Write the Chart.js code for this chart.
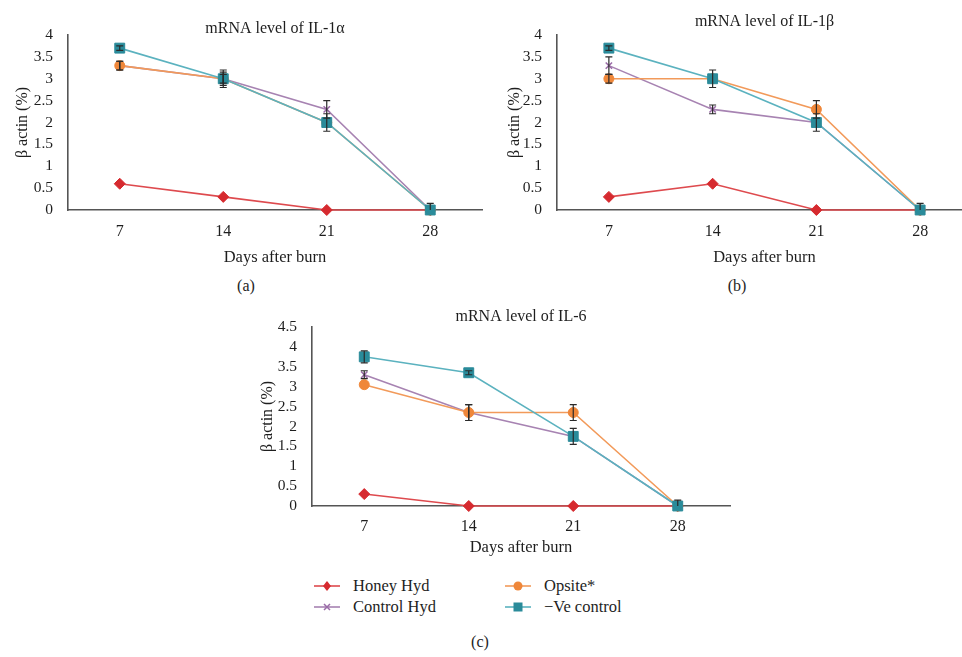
<!DOCTYPE html>
<html>
<head>
<meta charset="utf-8">
<script src="https://cdn.jsdelivr.net/npm/chart.js@4.4.1/dist/chart.umd.min.js"></script>
<style>
  body { margin: 0; width: 962px; height: 657px; overflow: hidden; background: #fff; position: relative;
         font-family: "Liberation Serif", "DejaVu Serif", serif; color: #1e1e1e; }
  .panel { position: absolute; }
  .tag { position: absolute; font-size: 16px; transform: translate(-50%, -50%); }
  .leg { position: absolute; font-size: 16.5px; display: flex; align-items: center; height: 20px; }
  .leg svg { margin-right: 13px; }
</style>
</head>
<body>
<div class="panel" style="left:0;top:0;width:490px;height:270px"><canvas id="il1a"></canvas></div>
<div class="panel" style="left:480px;top:0;width:500px;height:270px"><canvas id="il1b"></canvas></div>
<div class="panel" style="left:230px;top:300px;width:510px;height:258px"><canvas id="il6"></canvas></div>
<div class="tag" style="left:246px;top:286px">(a)</div>
<div class="tag" style="left:737px;top:286px">(b)</div>
<div class="tag" style="left:480px;top:642px">(c)</div>
<div id="legend"></div>
<script>
const days = ['7', '14', '21', '28'];
const seriesNames = ['Honey Hyd', 'Control Hyd', 'Opsite*', '\u2212Ve control'];
const markerColors = ['#d62a2f', '#9a6ba7', '#ef873a', '#2a8b9a'];
const lineColors = ['#de4a4e', '#a783b2', '#f29a5a', '#5bb2bf'];
const pointStyles = ['rectRot', 'crossRot', 'circle', 'rect'];
const pointRadii = [5.5, 4.5, 5, 7];

// IL-1 alpha
const il1aHoney = [0.6, 0.3, 0, 0];
const il1aControl = [3.3, 3.0, 2.3, 0];
const il1aOpsite = [3.3, 3.0, 2.0, 0];
const il1aVe = [3.7, 3.0, 2.0, 0];
const il1aErrControl = [0.1, 0.15, 0.2, 0];
const il1aErrOpsite = [0.1, 0.1, 0, 0];
const il1aErrVe = [0.05, 0.2, 0.2, 0.15];

// IL-1 beta
const il1bHoney = [0.3, 0.6, 0, 0];
const il1bControl = [3.3, 2.3, 2.0, 0];
const il1bOpsite = [3.0, 3.0, 2.3, 0];
const il1bVe = [3.7, 3.0, 2.0, 0];
const il1bErrControl = [0.2, 0.1, 0, 0];
const il1bErrOpsite = [0.1, 0, 0.2, 0];
const il1bErrVe = [0.05, 0.2, 0.2, 0.15];

// IL-6
const il6Honey = [0.3, 0, 0, 0];
const il6Control = [3.3, 2.35, 1.75, 0];
const il6Opsite = [3.05, 2.35, 2.35, 0];
const il6Ve = [3.75, 3.35, 1.75, 0];
const il6ErrControl = [0.1, 0.2, 0, 0];
const il6ErrOpsite = [0, 0.2, 0.2, 0];
const il6ErrVe = [0.15, 0.05, 0.2, 0.15];

const noErr = [0, 0, 0, 0];
const serif = '"Liberation Serif", "DejaVu Serif", serif';

// vertical error bars with caps, drawn through the y scale
const errorBars = {
  id: 'errorBars',
  afterDatasetsDraw(chart) {
    const { ctx, chartArea, scales: { y } } = chart;
    ctx.save();
    ctx.beginPath();
    ctx.rect(chartArea.left, chartArea.top - 20, chartArea.width, chartArea.height + 20);
    ctx.clip();
    ctx.strokeStyle = '#2a2a2a';
    ctx.lineWidth = 1.2;
    chart.data.datasets.forEach((ds, i) => {
      const meta = chart.getDatasetMeta(i);
      ds.errors.forEach((e, j) => {
        if (!e) return;
        const x = meta.data[j].x;
        const top = y.getPixelForValue(ds.data[j] + e);
        const bot = y.getPixelForValue(ds.data[j] - e);
        ctx.beginPath();
        ctx.moveTo(x, top); ctx.lineTo(x, bot);
        ctx.moveTo(x - 3.5, top); ctx.lineTo(x + 3.5, top);
        ctx.moveTo(x - 3.5, bot); ctx.lineTo(x + 3.5, bot);
        ctx.stroke();
      });
    });
    ctx.restore();
  }
};

function makeDatasets(values, errors) {
  return values.map((v, i) => ({
    label: seriesNames[i],
    data: v,
    errors: errors[i],
    borderColor: lineColors[i],
    backgroundColor: markerColors[i],
    pointBorderColor: markerColors[i],
    pointBackgroundColor: markerColors[i],
    pointStyle: pointStyles[i],
    pointRadius: pointRadii[i],
    pointBorderWidth: pointStyles[i] === 'crossRot' ? 1.5 : 1,
    borderWidth: 1.6,
    tension: 0,
    clip: false,
    order: 4 - i
  }));
}

function buildChart(id, title, values, errors, yMax, g) {
  return new Chart(document.getElementById(id), {
    type: 'line',
    data: { labels: days, datasets: makeDatasets(values, errors) },
    options: {
      responsive: true,
      maintainAspectRatio: false,
      animation: false,
      layout: { padding: { left: 0, right: g.padRight, top: 0, bottom: 0 } },
      plugins: {
        legend: { display: false },
        tooltip: { enabled: false },
        title: {
          display: true, text: title, fullSize: false, color: '#1e1e1e',
          font: { family: serif, size: 16, weight: 'normal' },
          padding: { top: g.titleTop, bottom: g.titleBottom }
        }
      },
      scales: {
        x: {
          offset: true,
          grid: { display: false },
          border: { display: true, color: '#555', width: 1.6 },
          ticks: { color: '#1e1e1e', padding: g.xTickPad, font: { family: serif, size: 16 } },
          title: { display: true, text: 'Days after burn', color: '#1e1e1e',
                   font: { family: serif, size: 16.5 }, padding: { top: 0, bottom: g.xTitlePad } },
          afterFit: s => { s.height = g.xHeight; }
        },
        y: {
          min: 0, max: yMax,
          grid: { display: false },
          border: { display: true, color: '#555', width: 1.6 },
          ticks: { stepSize: 0.5, autoSkip: false, color: '#1e1e1e', padding: 7,
                   font: { family: serif, size: 15.5 }, callback: v => String(v) },
          title: { display: true, text: '\u03b2 actin (%)', color: '#1e1e1e',
                   font: { family: serif, size: 16 }, padding: { top: g.yTitlePad, bottom: 0 } },
          afterFit: s => { s.width = g.yWidth; }
        }
      }
    },
    plugins: [errorBars]
  });
}

buildChart('il1a', 'mRNA level of IL-1\u03b1',
  [il1aHoney, il1aControl, il1aOpsite, il1aVe],
  [noErr, il1aErrControl, il1aErrOpsite, il1aErrVe], 4,
  { padRight: 6, titleTop: 19.4, titleBottom: -3.6, xTickPad: 4, xTitlePad: 2.4, xHeight: 60, yWidth: 68, yTitlePad: 13 });

buildChart('il1b', 'mRNA level of IL-1\u03b2',
  [il1bHoney, il1bControl, il1bOpsite, il1bVe],
  [noErr, il1bErrControl, il1bErrOpsite, il1bErrVe], 4,
  { padRight: 7, titleTop: 12.4, titleBottom: 3.4, xTickPad: 4, xTitlePad: 2.4, xHeight: 60, yWidth: 77, yTitlePad: 25.4 });

buildChart('il6', 'mRNA level of IL-6',
  [il6Honey, il6Control, il6Opsite, il6Ve],
  [noErr, il6ErrControl, il6ErrOpsite, il6ErrVe], 4.5,
  { padRight: 10, titleTop: 7.4, titleBottom: 0.4, xTickPad: 3, xTitlePad: 0, xHeight: 52, yWidth: 82, yTitlePad: 28.4 });

// legend, two columns
const legendPos = [[314, 586], [314, 607], [505, 586], [505, 607]];
const legend = document.getElementById('legend');
seriesNames.forEach((name, i) => {
  const c = markerColors[i], lc = lineColors[i];
  let mark;
  if (pointStyles[i] === 'rectRot') mark = `<polygon points="13,5 17,10 13,15 9,10" fill="${c}"/>`;
  else if (pointStyles[i] === 'crossRot') mark = `<path d="M10,7 L16,13 M16,7 L10,13" stroke="${c}" stroke-width="1.5"/>`;
  else if (pointStyles[i] === 'circle') mark = `<circle cx="13" cy="10" r="4.5" fill="${c}"/>`;
  else mark = `<rect x="8.5" y="5.5" width="9" height="9" fill="${c}"/>`;
  const el = document.createElement('div');
  el.className = 'leg';
  el.style.left = legendPos[i][0] + 'px';
  el.style.top = (legendPos[i][1] - 10) + 'px';
  el.innerHTML = `<svg width="26" height="20"><line x1="0" y1="10" x2="26" y2="10" stroke="${lc}" stroke-width="1.6"/>${mark}</svg>${name}`;
  legend.appendChild(el);
});
</script>
</body>
</html>
